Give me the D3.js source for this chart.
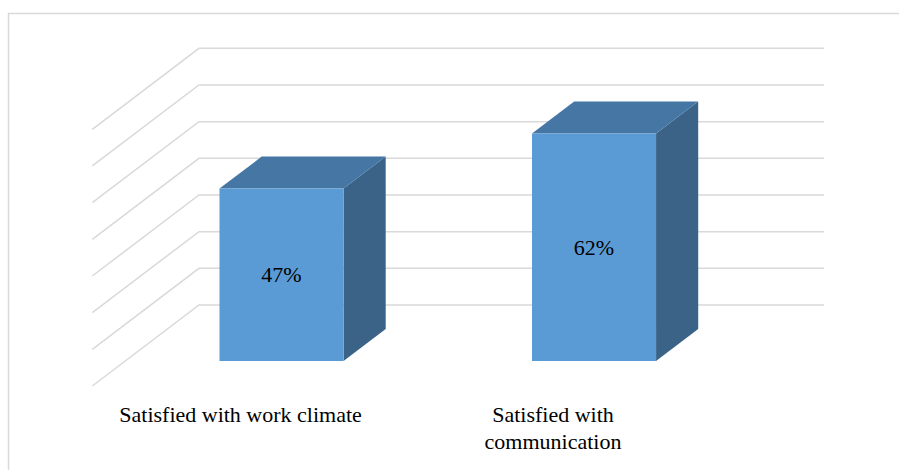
<!DOCTYPE html>
<html>
<head>
<meta charset="utf-8">
<script src="https://cdn.jsdelivr.net/npm/d3@7"></script>
<style>
  body { margin: 0; background: #fff; }
</style>
</head>
<body>
<div id="chart"></div>
<script>
// Data
let categories = ["Satisfied with work climate", "Satisfied with communication"];
let values = [47, 62];
let tickValues = [0, 10, 20, 30, 40, 50, 60, 70];

let width = 899, height = 470;
let serif = "'Liberation Serif', 'Times New Roman', Tinos, 'DejaVu Serif', serif";

let svg = d3.select("#chart").append("svg")
    .attr("width", width)
    .attr("height", height)
    .style("font-family", serif);

// outer border (runs off the right and bottom edge)
svg.append("rect")
    .attr("x", 8.5)
    .attr("y", 13.5)
    .attr("width", 900)
    .attr("height", 470)
    .attr("fill", "none")
    .attr("stroke", "#d9d9d9")
    .attr("stroke-width", 1.5);

// back wall scales
let x = d3.scaleBand()
    .domain(categories)
    .range([199, 824])
    .paddingInner(0.603)
    .paddingOuter(0.3015);

let y = d3.scaleLinear()
    .domain([0, 70])
    .range([305, 48.3]);

// depth vector: back wall -> front of floor
let depth = { dx: -106.7, dy: 81 };
let barBack = 0.296, barFront = 0.691;

function proj(px, py, d) {
    return [px + depth.dx * d, py + depth.dy * d];
}

// gridlines: back wall and left side wall
let grid = svg.append("g")
    .attr("stroke", "#d9d9d9")
    .attr("stroke-width", 1.5)
    .attr("fill", "none");

tickValues.forEach(t => {
    let p = proj(x.range()[0], y(t), 1);
    grid.append("path")
        .attr("d", `M${p[0]},${p[1]}L${x.range()[0]},${y(t)}L${x.range()[1]},${y(t)}`);
});

// bars
let bars = svg.append("g");

categories.forEach((c, i) => {
    let x0 = x(c), x1 = x(c) + x.bandwidth();
    let yTop = y(values[i]), yBase = y(0);

    let fTL = proj(x0, yTop, barFront), fTR = proj(x1, yTop, barFront);
    let fBR = proj(x1, yBase, barFront), fBL = proj(x0, yBase, barFront);
    let bTL = proj(x0, yTop, barBack), bTR = proj(x1, yTop, barBack);
    let bBR = proj(x1, yBase, barBack);

    // side face
    bars.append("polygon")
        .attr("points", [fTR, bTR, bBR, fBR].join(" "))
        .attr("fill", "#3a6387");

    // top face
    bars.append("polygon")
        .attr("points", [fTL, bTL, bTR, fTR].join(" "))
        .attr("fill", "#4676a3");

    // front face
    bars.append("polygon")
        .attr("points", [fTL, fTR, fBR, fBL].join(" "))
        .attr("fill", "#5b9bd5");

    // value label
    bars.append("text")
        .attr("x", (fTL[0] + fTR[0]) / 2)
        .attr("y", (fTL[1] + fBL[1]) / 2)
        .attr("dy", "0.35em")
        .attr("text-anchor", "middle")
        .attr("font-family", serif)
        .attr("font-size", 22)
        .attr("fill", "#000")
        .text(values[i] + "%");
});

// category labels (second one wraps)
let labelLines = [["Satisfied with work climate"], ["Satisfied with", "communication"]];

categories.forEach((c, i) => {
    let p = proj(x(c) + x.bandwidth() / 2, y(0), 1);
    let t = svg.append("text")
        .attr("x", p[0] - 8)
        .attr("y", 421.5)
        .attr("text-anchor", "middle")
        .attr("font-family", serif)
        .attr("font-size", 22)
        .attr("fill", "#000");
    labelLines[i].forEach((line, j) => {
        t.append("tspan")
            .attr("x", p[0] - 8)
            .attr("dy", j === 0 ? 0 : 27)
            .text(line);
    });
});
</script>
</body>
</html>
